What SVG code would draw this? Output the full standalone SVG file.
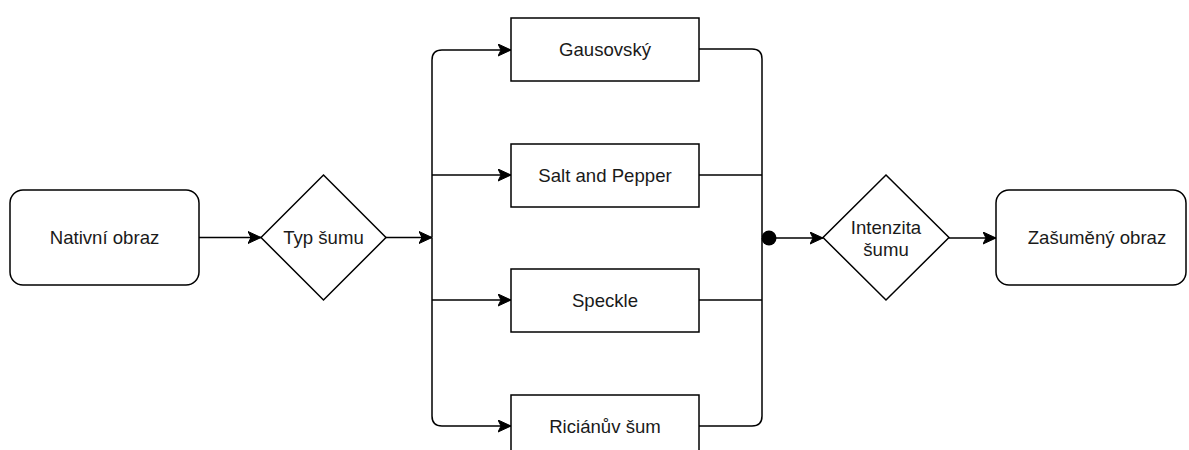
<svg xmlns="http://www.w3.org/2000/svg" width="1189" height="450" viewBox="0 0 1189 450">
<defs>
<style>
.box{fill:#fff;stroke:#000;stroke-width:1.5}
.t{font-family:"Liberation Sans",Arial,sans-serif;font-size:18.6px;fill:#1a1a1a;text-anchor:middle}
.c{fill:none;stroke:#000;stroke-width:1.5}
</style>
<marker id="ah" markerWidth="15" markerHeight="13" refX="13" refY="6.5" orient="auto" markerUnits="userSpaceOnUse">
<path d="M0,0.5 L13,6.5 L0,12.5 L3,6.5 Z" fill="#000" stroke="#000" stroke-width="1"/>
</marker>
</defs>
<rect width="1189" height="450" fill="#fff"/>
<g id="connectors">
<path class="c" d="M199,237.5 H261" marker-end="url(#ah)"/>
<path class="c" d="M386,237.5 H432" marker-end="url(#ah)"/>
<path class="c" d="M432,237.5 V60 Q432,50 442,50 H511" marker-end="url(#ah)"/>
<path class="c" d="M432,175 H511" marker-end="url(#ah)"/>
<path class="c" d="M432,300 H511" marker-end="url(#ah)"/>
<path class="c" d="M432,237.5 V416 Q432,426 442,426 H511" marker-end="url(#ah)"/>
<path class="c" d="M699,49 H752 Q762,49 762,59 V237.5"/>
<path class="c" d="M699,175 H762"/>
<path class="c" d="M699,300 H762"/>
<path class="c" d="M699,426 H752 Q762,426 762,416 V237.5"/>
<circle cx="769" cy="238" r="7.5" fill="#000"/>
<path class="c" d="M769,238 H823" marker-end="url(#ah)"/>
<path class="c" d="M949,238 H996" marker-end="url(#ah)"/>
</g>
<g id="nativni">
<rect class="box" x="10" y="190" width="189" height="95" rx="13"/>
<text class="t" x="104.5" y="244">Nativní obraz</text>
</g>
<g id="typ-sumu">
<polygon class="box" points="323.5,175 386,237.5 323.5,300 261,237.5"/>
<text class="t" x="323.5" y="244">Typ šumu</text>
</g>
<g id="gausovsky">
<rect class="box" x="511" y="18" width="188" height="63"/>
<text class="t" x="605" y="56">Gausovský</text>
</g>
<g id="salt-pepper">
<rect class="box" x="511" y="144" width="188" height="63"/>
<text class="t" x="605" y="182">Salt and Pepper</text>
</g>
<g id="speckle">
<rect class="box" x="511" y="269" width="188" height="63"/>
<text class="t" x="605" y="307">Speckle</text>
</g>
<g id="rician">
<rect class="box" x="511" y="395" width="188" height="63"/>
<text class="t" x="605" y="433">Riciánův šum</text>
</g>
<g id="intenzita">
<polygon class="box" points="886,175 949,237.5 886,300 823,237.5"/>
<text class="t" x="886" y="234">Intenzita</text>
<text class="t" x="886" y="256">šumu</text>
</g>
<g id="zasumeny">
<rect class="box" x="996" y="190" width="190" height="95" rx="13"/>
<text class="t" x="1097" y="244">Zašuměný obraz</text>
</g>
</svg>
